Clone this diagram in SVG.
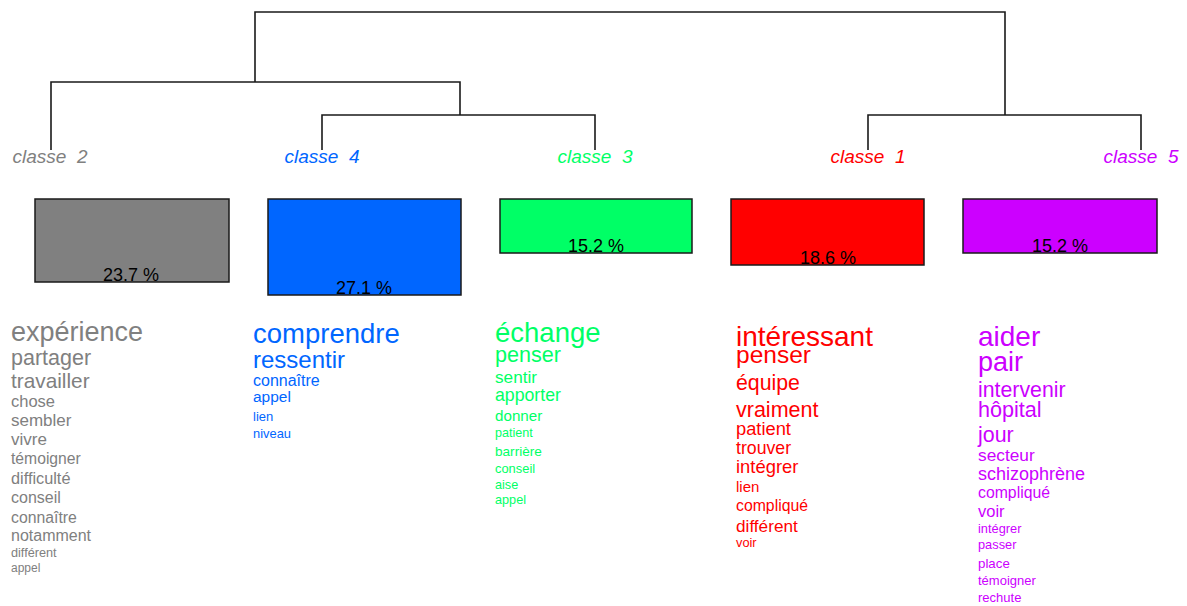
<svg xmlns="http://www.w3.org/2000/svg" width="1187" height="606" viewBox="0 0 1187 606">
<style>
text{font-family:"Liberation Sans",Arial,sans-serif}
.lbl{font-size:19px;font-style:italic;text-anchor:middle}
.pct{font-size:18px;text-anchor:middle;fill:#000}
.box{stroke:#1a1a1a;stroke-width:1.5}
.dend{fill:none;stroke:#1a1a1a;stroke-width:1.6}
.c2{fill:#808080}.c4{fill:#0066ff}.c3{fill:#00ff66}.c1{fill:#ff0000}.c5{fill:#cc00ff}
</style>
<rect width="1187" height="606" fill="#fff"/>
<g id="connectors" class="dend">
<path d="M255,82 V12 H1005 V115"/>
<path d="M51,150 V82 H460 V115"/>
<path d="M322,150 V115 H595 V150"/>
<path d="M868,150 V115 H1141 V150"/>
</g>
<g id="classe2">
<text class="lbl c2" x="50" y="163" xml:space="preserve">classe  2</text>
<rect class="box c2" x="35" y="199" width="194" height="83"/>
<text class="pct" x="131" y="281">23.7 %</text>
<g class="c2">
<text x="11" y="341" font-size="27">expérience</text>
<text x="11" y="365" font-size="21.5">partager</text>
<text x="11" y="388" font-size="20.8">travailler</text>
<text x="11" y="407" font-size="16.5">chose</text>
<text x="11" y="426" font-size="17">sembler</text>
<text x="11" y="445" font-size="17">vivre</text>
<text x="11" y="464" font-size="15.7">témoigner</text>
<text x="11" y="484" font-size="16.3">difficulté</text>
<text x="11" y="503" font-size="16">conseil</text>
<text x="11" y="523" font-size="15.8">connaître</text>
<text x="11" y="541" font-size="16">notamment</text>
<text x="11" y="557" font-size="12.7">différent</text>
<text x="11" y="572" font-size="12">appel</text>
</g>
</g>
<g id="classe4">
<text class="lbl c4" x="322" y="163" xml:space="preserve">classe  4</text>
<rect class="box c4" x="268" y="199" width="193" height="96"/>
<text class="pct" x="364" y="294">27.1 %</text>
<g class="c4">
<text x="253" y="343" font-size="27.5">comprendre</text>
<text x="253" y="368" font-size="24">ressentir</text>
<text x="253" y="386" font-size="16">connaître</text>
<text x="253" y="402" font-size="15.5">appel</text>
<text x="253" y="421" font-size="13">lien</text>
<text x="253" y="438" font-size="12.9">niveau</text>
</g>
</g>
<g id="classe3">
<text class="lbl c3" x="595" y="163" xml:space="preserve">classe  3</text>
<rect class="box c3" x="500" y="199" width="192" height="54"/>
<text class="pct" x="596" y="252">15.2 %</text>
<g class="c3">
<text x="495" y="342" font-size="27.5">échange</text>
<text x="495" y="362" font-size="21.6">penser</text>
<text x="495" y="383" font-size="17.2">sentir</text>
<text x="495" y="401" font-size="17.7">apporter</text>
<text x="495" y="421" font-size="15.2">donner</text>
<text x="495" y="437" font-size="12.6">patient</text>
<text x="495" y="456" font-size="13.6">barrière</text>
<text x="495" y="473" font-size="12.9">conseil</text>
<text x="495" y="489" font-size="12.7">aise</text>
<text x="495" y="504" font-size="12.7">appel</text>
</g>
</g>
<g id="classe1">
<text class="lbl c1" x="868" y="163" xml:space="preserve">classe  1</text>
<rect class="box c1" x="731" y="199" width="193" height="66"/>
<text class="pct" x="828" y="264">18.6 %</text>
<g class="c1">
<text x="736" y="346" font-size="28">intéressant</text>
<text x="736" y="363" font-size="24.5">penser</text>
<text x="736" y="390" font-size="21.3">équipe</text>
<text x="736" y="417" font-size="21.5">vraiment</text>
<text x="736" y="435" font-size="18.3">patient</text>
<text x="736" y="454" font-size="17.7">trouver</text>
<text x="736" y="473" font-size="18.4">intégrer</text>
<text x="736" y="492" font-size="15">lien</text>
<text x="736" y="511" font-size="15.8">compliqué</text>
<text x="736" y="532" font-size="17.2">différent</text>
<text x="736" y="547" font-size="12.8">voir</text>
</g>
</g>
<g id="classe5">
<text class="lbl c5" x="1141" y="163" xml:space="preserve">classe  5</text>
<rect class="box c5" x="963" y="199" width="194" height="54"/>
<text class="pct" x="1060" y="252">15.2 %</text>
<g class="c5">
<text x="978" y="346" font-size="28">aider</text>
<text x="978" y="371" font-size="27">pair</text>
<text x="978" y="397" font-size="21.3">intervenir</text>
<text x="978" y="417" font-size="21.6">hôpital</text>
<text x="978" y="442" font-size="21.4">jour</text>
<text x="978" y="461" font-size="17.3">secteur</text>
<text x="978" y="480" font-size="18">schizophrène</text>
<text x="978" y="498" font-size="15.8">compliqué</text>
<text x="978" y="517" font-size="16.5">voir</text>
<text x="978" y="533" font-size="12.8">intégrer</text>
<text x="978" y="549" font-size="12.8">passer</text>
<text x="978" y="568" font-size="13.3">place</text>
<text x="978" y="585" font-size="13">témoigner</text>
<text x="978" y="602" font-size="13">rechute</text>
</g>
</g>
</svg>
